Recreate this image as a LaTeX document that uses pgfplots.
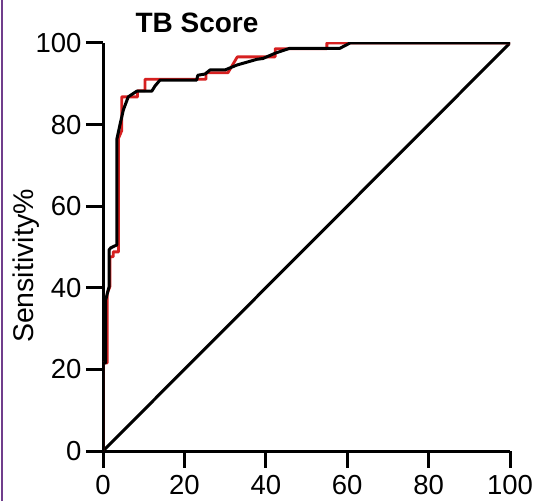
\documentclass[border=0pt]{standalone}
\usepackage{fontspec}
\setmainfont{Liberation Sans}
\usepackage{pgfplots}
\pgfplotsset{compat=1.18}
\definecolor{rocred}{RGB}{214,32,32}
\definecolor{edgepurple}{RGB}{112,62,140}
\begin{document}
\begin{tikzpicture}[x=1pt,y=1pt]
\clip (0,0) rectangle (533,501);
\fill[white] (0,0) rectangle (533,501);
\draw[edgepurple, line width=2pt] (2,0) -- (2,501);
\begin{axis}[
  at={(103pt,50pt)}, anchor=south west,
  scale only axis, width=407pt, height=408pt,
  xmin=0, xmax=100, ymin=0, ymax=100,
  axis lines=left,
  axis line style={-, line width=3pt},
  tick align=outside,
  major tick length=17pt,
  every tick/.style={black, line width=3pt},
  xtick={0,20,...,100}, ytick={0,20,...,100},
  ticklabel style={font=\fontsize{27.5}{30}\selectfont},
  xticklabel style={yshift=-4pt},
  yticklabel style={xshift=-1pt},
  /pgf/number format/assume math mode=true,
  title={TB Score},
  title style={font=\fontsize{28}{30}\selectfont\bfseries, at={(axis description cs:0.231,1.012)}, anchor=base},
  ylabel={Sensitivity\%},
  ylabel style={font=\fontsize{28.5}{30}\selectfont, at={(axis description cs:-0.19,0.453)}, anchor=center},
]
% chance line
\addplot[black, line width=3pt] coordinates {(0,0) (100,100)};
% empirical ROC (step)
\addplot[rocred, line width=2.8pt, line join=round] coordinates {
  (0,0) (0,21.6) (1.06,21.6) (1.06,38.7) (1.7,40.3) (1.7,47.6) (2.5,47.6)
  (2.5,48.8) (3.8,48.8) (3.8,76.6) (4.6,78.5) (4.6,86.8) (8.5,86.8)
  (8.5,88.3) (10.3,88.3) (10.3,91.1) (25.3,91.1) (25.3,92.7) (30.7,92.7)
  (33.0,96.6) (42.3,96.6) (42.3,98.6) (55.0,98.6) (55.0,100) (100,100)
};
% fitted ROC
\addplot[black, line width=3pt, line join=round] coordinates {
  (0,0) (0,21.6) (0.65,21.6) (0.65,37.0) (1.5,40.3) (1.5,49.3) (1.9,49.8)
  (3.4,50.5) (3.4,76.4) (4.2,80.1) (5.0,83.6) (6.2,86.8) (8.3,88.2)
  (12.0,88.2) (12.8,89.5) (14.0,90.9) (23.0,90.9) (23.3,92.1) (25.1,92.4)
  (26.3,93.4) (30.0,93.4) (32.9,94.6) (37.8,96.0) (39.3,96.2) (42.3,97.5)
  (45.9,98.7) (58.2,98.7) (60.7,100) (100,100)
};
\end{axis}
\end{tikzpicture}
\end{document}
